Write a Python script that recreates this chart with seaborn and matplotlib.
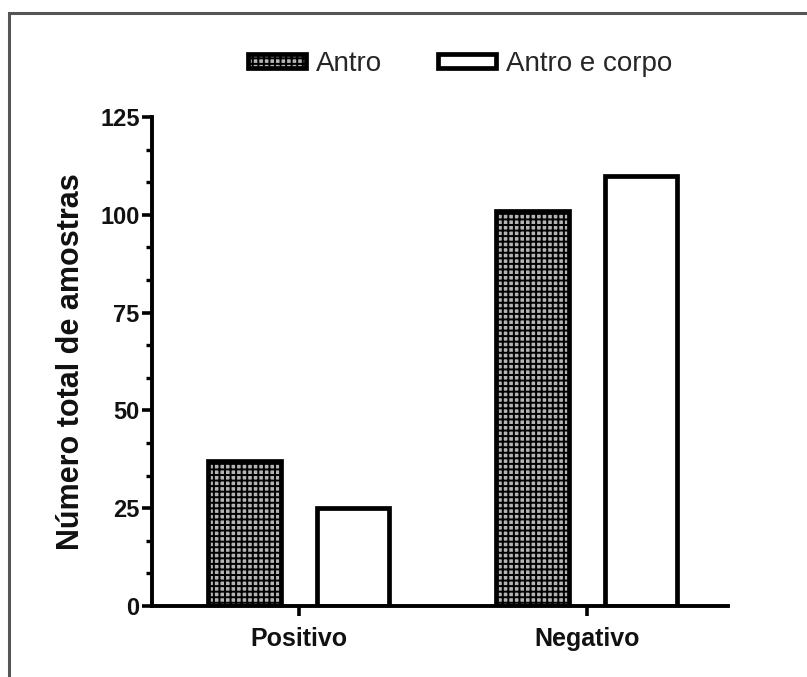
import matplotlib
matplotlib.use("Agg")
import matplotlib.pyplot as plt
import seaborn as sns
import pandas as pd
from matplotlib.patches import Rectangle
from matplotlib.ticker import MultipleLocator

# data
categorias = ['Positivo', 'Negativo']
amostras = ['Antro', 'Antro e corpo']
antro = [37, 101]
antro_corpo = [25, 110]
y_ticks = [0, 25, 50, 75, 100, 125]

df = pd.DataFrame({
    'Resultado': categorias * 2,
    'Amostra': [amostras[0]] * 2 + [amostras[1]] * 2,
    'N': antro + antro_corpo,
})

sns.set_theme(style="ticks")
plt.rcParams['font.family'] = ['Liberation Sans', 'DejaVu Sans']
plt.rcParams['hatch.linewidth'] = 1.4

fig = plt.figure(figsize=(8.07, 6.77), dpi=100)
ax = fig.add_axes([152 / 807, 1 - 606 / 677, (728 - 152) / 807, (606 - 117) / 677])

sns.barplot(data=df, x='Resultado', y='N', hue='Amostra', order=categorias,
            hue_order=amostras, palette={'Antro': '#b4b4b4', 'Antro e corpo': 'white'},
            width=0.753, gap=0.33, edgecolor='black', linewidth=3.4,
            saturation=1, legend=False, ax=ax)

# dotted texture on the "Antro" bars
for p in ax.containers[0]:
    p.set_hatch('+++')

ax.set_xlim(-0.51, 1.49)
ax.set_ylim(0, 125)
ax.set_yticks(y_ticks)
ax.yaxis.set_minor_locator(MultipleLocator(25 / 3))
sns.despine(ax=ax)
for s in ['left', 'bottom']:
    ax.spines[s].set_linewidth(2.8)
    ax.spines[s].set_color('black')

ax.tick_params(axis='both', which='major', length=7, width=2.6, color='black')
ax.tick_params(axis='y', which='minor', length=4, width=2.4, color='black')
ax.tick_params(axis='y', labelsize=17, pad=2)
ax.tick_params(axis='x', labelsize=18, pad=8)
for lab in ax.get_xticklabels() + ax.get_yticklabels():
    lab.set_fontweight('bold')
    lab.set_color('#111111')

ax.set_xlabel('')
ax.set_ylabel('Número total de amostras', fontsize=22, fontweight='bold', labelpad=10,
              color='#111111')

fig.legend(handles=ax.containers, labels=amostras, loc='center',
           bbox_to_anchor=(0.57, 1 - 64 / 677), ncol=2, frameon=False,
           fontsize=20, handlelength=2.1, handleheight=0.42, handletextpad=0.35,
           columnspacing=2.0, borderpad=0)

# grey frame around the figure (only left and top edges visible)
fig.patches.append(Rectangle((9 / 807, -0.2), 1.2, 1.2 - 13 / 677,
                             transform=fig.transFigure, fill=False,
                             edgecolor='#555555', linewidth=2.2))

fig.savefig('out.png', dpi=100)
